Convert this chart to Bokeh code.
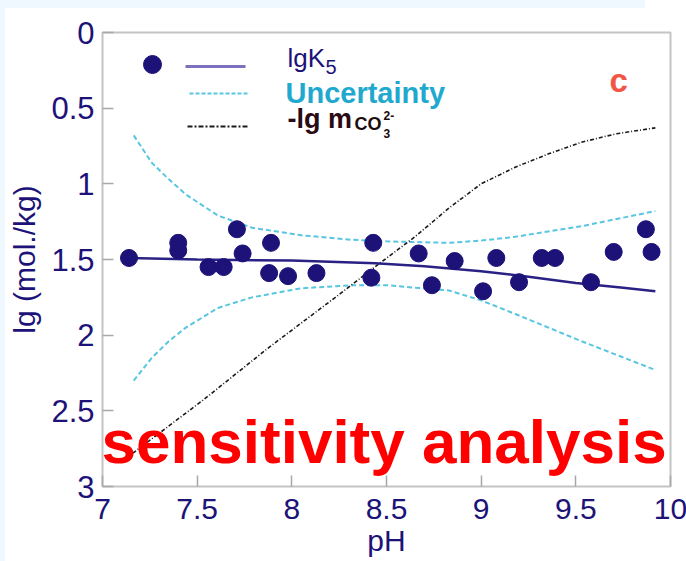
from bokeh.plotting import figure
from bokeh.models import Range1d, Label, FixedTicker, Spacer
from bokeh.layouts import row, column
from bokeh.embed import file_html
from bokeh.resources import INLINE

# ---- data -------------------------------------------------------------
ph_points = [7.14, 7.40, 7.40, 7.56, 7.64, 7.71, 7.74, 7.89, 7.88, 7.98,
             8.13, 8.43, 8.42, 8.67, 8.74, 8.86, 9.01, 9.08, 9.20, 9.32,
             9.39, 9.58, 9.70, 9.87, 9.90]
lgk5_points = [1.49, 1.39, 1.44, 1.55, 1.55, 1.30, 1.46, 1.39, 1.59, 1.61,
               1.59, 1.39, 1.62, 1.46, 1.67, 1.51, 1.71, 1.49, 1.65, 1.49,
               1.49, 1.65, 1.45, 1.30, 1.45]

ph_fit = [7.14, 7.5, 8.0, 8.2, 8.44, 8.7, 9.0, 9.25, 9.5, 9.75, 9.92]
lgk5_fit = [1.49, 1.50, 1.507, 1.515, 1.525, 1.545, 1.577, 1.614, 1.655, 1.686, 1.71]

ph_band = [7.165, 7.26, 7.35, 7.44, 7.61, 7.79, 8.05, 8.32, 8.5, 8.83, 9.0, 9.18, 9.53, 9.92]
band_upper = [0.68, 0.86, 0.97, 1.07, 1.21, 1.29, 1.34, 1.37, 1.38, 1.39, 1.375, 1.35, 1.28, 1.18]
band_lower = [2.30, 2.15, 2.04, 1.95, 1.82, 1.75, 1.69, 1.67, 1.67, 1.705, 1.77, 1.86, 2.04, 2.23]

ph_co3 = [7.16, 7.53, 7.88, 8.23, 8.48, 8.65, 8.83, 9.0, 9.18, 9.36, 9.53, 9.71, 9.92]
lg_mco3 = [2.78, 2.43, 2.08, 1.75, 1.51, 1.35, 1.16, 1.0, 0.89, 0.80, 0.725, 0.67, 0.63]

x_ticks = [7, 7.5, 8, 8.5, 9, 9.5, 10]
x_tick_labels = ["7", "7.5", "8", "8.5", "9", "9.5", "10"]
y_ticks = [0, 0.5, 1, 1.5, 2, 2.5, 3]
y_tick_labels = ["0", "0.5", "1", "1.5", "2", "2.5", "3"]

# ---- styling ----------------------------------------------------------
NAVY = "#1c1278"
FIT = "#2a2184"
FIT_KEY = "#7c70bf"
CYAN = "#58c6df"
CYAN_TEXT = "#1fa9cf"
DASHDOT = "#1a1a1a"
PAGE_TINT = "#eff7ff"
FONT = "Liberation Sans"

# page geometry: a thin tinted strip on the left and a tinted band on top,
# the plot canvas sits right of / below them
STRIP_W, BAND_H = 5, 8
FRAME_LEFT, FRAME_TOP = 100, 32          # page position of the data frame
FRAME_W, FRAME_H = 568, 454
X0, X1, Y0, Y1 = 7, 10, 0, 3
BASELINE_SHIFT = 0.35                    # Label anchor offset, in em


def px_x(px):
    """page pixel column -> pH value"""
    return X0 + (px - FRAME_LEFT) * (X1 - X0) / FRAME_W


def px_y(py):
    """page pixel row -> lg value (axis runs downward)"""
    return Y0 + (py - FRAME_TOP) * (Y1 - Y0) / FRAME_H


def tick_key(t):
    return int(t) if float(t).is_integer() else t


p = figure(frame_width=FRAME_W, frame_height=FRAME_H,
           x_range=Range1d(X0, X1), y_range=Range1d(Y1, Y0),
           output_backend="svg", toolbar_location=None,
           min_border_left=FRAME_LEFT - STRIP_W, min_border_right=18,
           min_border_top=FRAME_TOP - BAND_H, min_border_bottom=60)
p.background_fill_color = "white"
p.border_fill_color = "white"
p.outline_line_color = "#c4c4c4"
p.outline_line_width = 2
p.xgrid.visible = False
p.ygrid.visible = False

for ax in (p.xaxis[0], p.yaxis[0]):
    ax.axis_line_color = None
    ax.major_tick_in = 11
    ax.major_tick_out = 0
    ax.minor_tick_line_color = None
    ax.major_tick_line_color = "#a8a8a8"
    ax.major_tick_line_width = 1.5
    ax.major_label_text_font = FONT
    ax.major_label_text_color = NAVY
    ax.axis_label_text_font = FONT
    ax.axis_label_text_font_size = "30px"
    ax.axis_label_text_font_style = "normal"
    ax.axis_label_text_color = NAVY

p.xaxis.ticker = FixedTicker(ticks=x_ticks)
p.xaxis.major_label_overrides = {tick_key(t): s for t, s in zip(x_ticks, x_tick_labels)}
p.xaxis.major_label_text_font_size = "30px"
p.xaxis.major_label_standoff = 12
p.xaxis.axis_label = "pH"
p.xaxis.axis_label_standoff = 2

p.yaxis.ticker = FixedTicker(ticks=y_ticks)
p.yaxis.major_label_overrides = {tick_key(t): s for t, s in zip(y_ticks, y_tick_labels)}
p.yaxis.major_label_text_font_size = "31px"
p.yaxis.major_label_standoff = 8
p.yaxis.axis_label = "lg (mol./kg)"
p.yaxis.axis_label_standoff = 7

# ---- curves and points ------------------------------------------------
p.line(ph_band, band_upper, line_color=CYAN, line_width=2, line_dash="5 3")
p.line(ph_band, band_lower, line_color=CYAN, line_width=2, line_dash="5 3")
p.line(ph_co3, lg_mco3, line_color=DASHDOT, line_width=1.6, line_dash="4 2 1 2")
p.line(ph_fit, lgk5_fit, line_color=FIT, line_width=2.5)
p.scatter(ph_points, lgk5_points, size=17, fill_color=NAVY, line_color=NAVY)

# ---- key --------------------------------------------------------------
p.scatter([px_x(150)], [px_y(64)], size=18, fill_color=NAVY, line_color=NAVY)
p.line([px_x(183), px_x(243)], [px_y(66)] * 2, line_color=FIT_KEY, line_width=3)
p.line([px_x(187), px_x(245)], [px_y(93)] * 2, line_color=CYAN, line_width=2, line_dash="4 2")
p.line([px_x(185), px_x(245)], [px_y(126)] * 2, line_color=DASHDOT, line_width=2, line_dash="5 2 2 2")


def add_text(px, baseline, text, size, color, style="normal", align="left"):
    y_anchor = baseline - BASELINE_SHIFT * size
    p.add_layout(Label(x=px_x(px), y=px_y(y_anchor), text=text, text_font=FONT,
                       text_font_size=f"{size}px", text_font_style=style,
                       text_color=color, text_align=align,
                       text_baseline="alphabetic"))


add_text(285, 66.5, "lgK", 26, NAVY)
add_text(323, 73, "5", 20, NAVY)
add_text(283, 103, "Uncertainty", 29, CYAN_TEXT, "bold")
add_text(285, 128, "-lg m", 27, "#2b0a14", "bold")
add_text(352, 130, "CO", 18, "#1a0a0a", "bold")
add_text(381, 119, "2-", 12, "#1a0a0a", "bold")
add_text(381, 137, "3", 12, "#1a0a0a", "bold")
add_text(607, 92, "c", 33, "#f05545", "bold")
add_text(99, 463, "sensitivity analysis", 62, "#ff0000", "bold")

left_strip = Spacer(width=STRIP_W, height=561, styles={"background-color": PAGE_TINT})
top_band = Spacer(width=645 - STRIP_W, height=BAND_H, styles={"background-color": PAGE_TINT})
page = row(left_strip, column(top_band, p, spacing=0), spacing=0)

open("out.html", "w").write(file_html(page, INLINE))
